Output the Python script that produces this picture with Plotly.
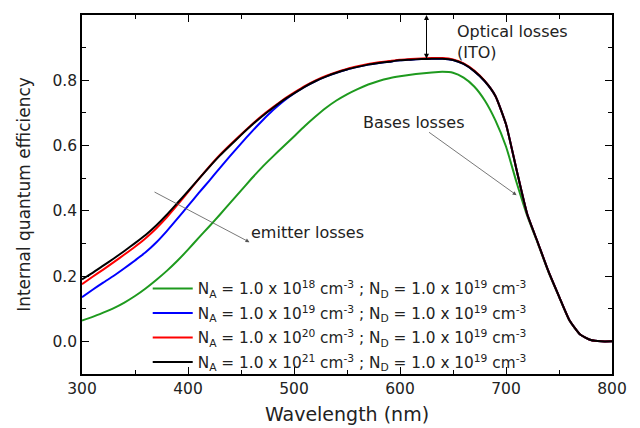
import plotly.graph_objects as go

wavelength = list(range(300, 801, 10))

iqe_na21 = [0.190, 0.210, 0.232, 0.254, 0.277, 0.301, 0.326, 0.355, 0.388, 0.424,
            0.460, 0.497, 0.534, 0.569, 0.601, 0.632, 0.662, 0.690, 0.715, 0.739,
            0.760, 0.780, 0.797, 0.811, 0.823, 0.833, 0.841, 0.848, 0.853, 0.857,
            0.861, 0.863, 0.865, 0.866, 0.866, 0.862, 0.850, 0.828, 0.797, 0.752,
            0.665, 0.525, 0.390, 0.303, 0.215, 0.138, 0.064, 0.021, 0.004, 0.000, 0.000]

iqe_na20 = [0.175, 0.198, 0.220, 0.243, 0.266, 0.290, 0.316, 0.346, 0.380, 0.418,
            0.457, 0.497, 0.535, 0.571, 0.603, 0.634, 0.664, 0.692, 0.717, 0.741,
            0.762, 0.782, 0.799, 0.813, 0.825, 0.835, 0.843, 0.850, 0.855, 0.859,
            0.863, 0.865, 0.867, 0.868, 0.868, 0.864, 0.852, 0.830, 0.798, 0.752,
            0.665, 0.525, 0.390, 0.303, 0.215, 0.138, 0.064, 0.021, 0.004, 0.000, 0.000]

iqe_na19 = [0.135, 0.158, 0.180, 0.201, 0.224, 0.248, 0.273, 0.303, 0.338, 0.376,
            0.415, 0.454, 0.492, 0.531, 0.569, 0.606, 0.642, 0.676, 0.708, 0.736,
            0.760, 0.780, 0.797, 0.811, 0.823, 0.833, 0.841, 0.848, 0.853, 0.857,
            0.861, 0.863, 0.865, 0.866, 0.866, 0.862, 0.850, 0.828, 0.797, 0.752,
            0.665, 0.525, 0.390, 0.303, 0.215, 0.138, 0.064, 0.021, 0.004, 0.000, 0.000]

iqe_na18 = [0.064, 0.075, 0.088, 0.102, 0.119, 0.139, 0.162, 0.188, 0.216, 0.247,
            0.281, 0.317, 0.352, 0.388, 0.425, 0.462, 0.499, 0.534, 0.566, 0.597,
            0.628, 0.659, 0.688, 0.715, 0.738, 0.757, 0.773, 0.787, 0.798, 0.806,
            0.812, 0.817, 0.821, 0.824, 0.826, 0.823, 0.808, 0.781, 0.738, 0.677,
            0.597, 0.487, 0.385, 0.300, 0.213, 0.137, 0.063, 0.021, 0.004, 0.000, 0.000]

legend_labels = [
    "N<sub>A</sub> = 1.0 x 10<sup>18</sup> cm<sup>-3</sup> ; N<sub>D</sub> = 1.0 x 10<sup>19</sup> cm<sup>-3</sup>",
    "N<sub>A</sub> = 1.0 x 10<sup>19</sup> cm<sup>-3</sup> ; N<sub>D</sub> = 1.0 x 10<sup>19</sup> cm<sup>-3</sup>",
    "N<sub>A</sub> = 1.0 x 10<sup>20</sup> cm<sup>-3</sup> ; N<sub>D</sub> = 1.0 x 10<sup>19</sup> cm<sup>-3</sup>",
    "N<sub>A</sub> = 1.0 x 10<sup>21</sup> cm<sup>-3</sup> ; N<sub>D</sub> = 1.0 x 10<sup>19</sup> cm<sup>-3</sup>",
]
series = [iqe_na18, iqe_na19, iqe_na20, iqe_na21]
colors = ["#1e9a1e", "#0000ff", "#ff0000", "#000000"]

fig = go.Figure()
for i, (lab, ys, c) in enumerate(zip(legend_labels, series, colors)):
    fig.add_trace(go.Scatter(x=wavelength, y=ys, mode="lines", name=lab, legendgroup=f"g{i}",
                             line=dict(color=c, width=2, shape="spline", smoothing=0.5)))

font_family = "DejaVu Sans, Verdana, sans-serif"
txt = "#222222"

axis_common = dict(
    showline=True, linecolor="black", linewidth=1.5, mirror="ticks",
    ticks="inside", ticklen=7, tickwidth=1.2, tickcolor="black",
    showgrid=False, zeroline=False, automargin=False,
    tickfont=dict(family=font_family, size=15.5, color=txt),
)

fig.update_xaxes(range=[300, 800], dtick=100, tick0=300,
                 minor=dict(ticks="inside", ticklen=4, dtick=50, tickcolor="black", tickwidth=1.2),
                 title=dict(text="Wavelength (nm)", font=dict(family=font_family, size=19, color=txt), standoff=10),
                 **axis_common)
fig.update_yaxes(range=[-0.1, 1.0], dtick=0.2, tick0=0, tickformat=".1f",
                 minor=dict(ticks="inside", ticklen=4, dtick=0.1, tickcolor="black", tickwidth=1.2),
                 title=dict(text="Internal quantum efficiency", font=dict(family=font_family, size=17, color=txt), standoff=18),
                 **axis_common)

# Optical losses double arrow
fig.add_annotation(x=625, y=1.0, ax=625, ay=0.866, xref="x", yref="y", axref="x", ayref="y",
                   showarrow=True, arrowhead=2, arrowsize=1, arrowwidth=1, arrowcolor="black", text="")
fig.add_annotation(x=625, y=0.866, ax=625, ay=1.0, xref="x", yref="y", axref="x", ayref="y",
                   showarrow=True, arrowhead=2, arrowsize=1, arrowwidth=1, arrowcolor="black", text="")
fig.add_annotation(x=0.703, y=0.985, xref="paper", yref="paper", xanchor="left", yanchor="top",
                   text="Optical losses<br>(ITO)", showarrow=False, align="left",
                   font=dict(family=font_family, size=16, color=txt))

# Bases losses
fig.add_annotation(x=710, y=0.448, ax=626, ay=0.644, xref="x", yref="y", axref="x", ayref="y",
                   showarrow=True, arrowhead=2, arrowsize=1, arrowwidth=0.8, arrowcolor="#555555", text="")
fig.add_annotation(x=0.527, y=0.7, xref="paper", yref="paper", xanchor="left", yanchor="middle",
                   text="Bases losses", showarrow=False,
                   font=dict(family=font_family, size=16, color=txt))

# emitter losses
fig.add_annotation(x=458, y=0.304, ax=367, ay=0.46, xref="x", yref="y", axref="x", ayref="y",
                   showarrow=True, arrowhead=2, arrowsize=1, arrowwidth=0.8, arrowcolor="#555555", text="")
fig.add_annotation(x=0.316, y=0.395, xref="paper", yref="paper", xanchor="left", yanchor="middle",
                   text="emitter losses", showarrow=False,
                   font=dict(family=font_family, size=16, color=txt))

# page body adds an 8px offset; margins compensate so the plot area sits at x 82-612, y 15-374
fig.update_layout(
    width=640, height=428,
    margin=dict(l=74, r=36, t=7, b=62),
    paper_bgcolor="white", plot_bgcolor="white",
    showlegend=True,
    legend=dict(x=0.124, y=0.284, xanchor="left", yanchor="top",
                bgcolor="rgba(0,0,0,0)", borderwidth=0,
                font=dict(family=font_family, size=15.3, color=txt),
                itemwidth=40, tracegroupgap=1.6),
)

fig.write_html("out.html")
